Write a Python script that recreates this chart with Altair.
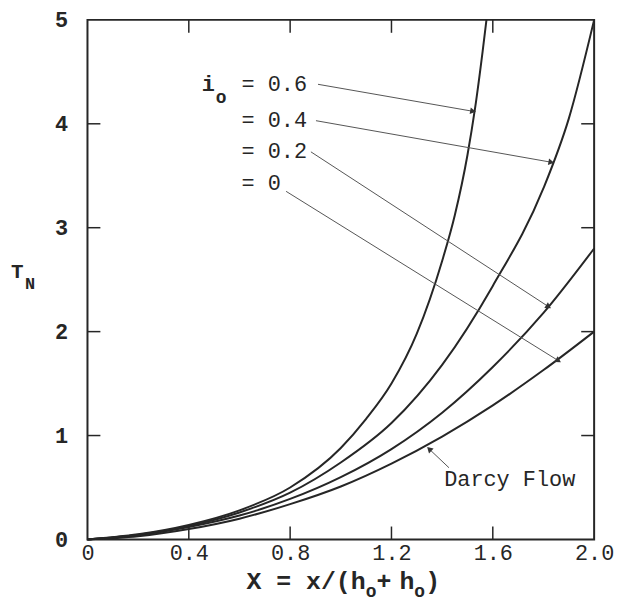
import math
import altair as alt
import pandas as pd

# ---------------- data ----------------
X_DARCY = [0, 0.2, 0.4, 0.6, 0.8, 1.0, 1.2, 1.4, 1.6, 1.8, 2.0]
T_DARCY = [0, 0.03, 0.10, 0.20, 0.34, 0.51, 0.73, 0.99, 1.29, 1.63, 2.0]

X_I02 = [0, 0.2, 0.4, 0.6, 0.8, 1.0, 1.2, 1.4, 1.6, 1.8, 2.0]
T_I02 = [0, 0.042, 0.12, 0.23, 0.39, 0.60, 0.87, 1.22, 1.66, 2.18, 2.80]

X_I04 = [0, 0.2, 0.4, 0.6, 0.8, 1.0, 1.2, 1.4, 1.6, 1.8, 1.9, 2.0]
T_I04 = [0, 0.045, 0.13, 0.26, 0.45, 0.74, 1.12, 1.68, 2.44, 3.38, 4.05, 5.0]

X_I06 = [0, 0.2, 0.4, 0.6, 0.8, 1.0, 1.1, 1.2, 1.3, 1.4, 1.45, 1.5, 1.53, 1.56, 1.575]
T_I06 = [0, 0.05, 0.14, 0.28, 0.50, 0.88, 1.16, 1.50, 1.98, 2.68, 3.12, 3.70, 4.15, 4.70, 5.0]

X_TICKS = [0.4, 0.8, 1.2, 1.6]
Y_TICKS = [1, 2, 3, 4]

# annotation labels
LABEL_TEXT = ["= 0.6", "= 0.4", "= 0.2", "= 0", "Darcy Flow"]
LABEL_X = [0.608, 0.608, 0.608, 0.608, 1.408]
LABEL_T = [4.383, 4.039, 3.733, 3.427, 0.578]

# leader arrows (start -> tip on curve)
ARROW_X1 = [0.910, 0.902, 0.882, 0.784, 1.427]
ARROW_T1 = [4.38, 4.03, 3.73, 3.35, 0.69]
ARROW_X2 = [1.522, 1.831, 1.820, 1.859, 1.349]
ARROW_T2 = [4.12, 3.63, 2.24, 1.72, 0.87]

W, H = 510, 523
FONT = "Liberation Mono"
INK = "#262626"

# ---------------- tables ----------------
rows = []
for name, xs, ts in [("Darcy", X_DARCY, T_DARCY), ("0.2", X_I02, T_I02),
                     ("0.4", X_I04, T_I04), ("0.6", X_I06, T_I06)]:
    for x, t in zip(xs, ts):
        rows.append({"series": name, "X": x, "T": t})
curves = pd.DataFrame(rows)

labels = pd.DataFrame({"txt": LABEL_TEXT, "X": LABEL_X, "T": LABEL_T})
arrows = pd.DataFrame({"X": ARROW_X1, "T": ARROW_T1, "X2": ARROW_X2, "T2": ARROW_T2})
px_x, px_y = W / 2.0, H / 5.0
arrows["ang"] = [
    math.degrees(math.atan2(-(t2 - t1) * px_y, (x2 - x1) * px_x)) % 360
    for x1, t1, x2, t2 in zip(ARROW_X1, ARROW_T1, ARROW_X2, ARROW_T2)
]

xs = alt.Scale(domain=[0, 2], nice=False, zero=False)
ys = alt.Scale(domain=[0, 5], nice=False, zero=False)

lines = alt.Chart(curves).mark_line(
    color=INK, strokeWidth=2, interpolate="monotone"
).encode(
    x=alt.X("X:Q", scale=xs, axis=alt.Axis(
        values=[0, 0.4, 0.8, 1.2, 1.6, 2.0], title=None,
        labelExpr="datum.value == 0 ? '0' : format(datum.value, '.1f')",
        labelPadding=3, labelFontSize=22, labelFont=FONT, labelColor=INK,
        labelFlush=False)),
    y=alt.Y("T:Q", scale=ys, axis=alt.Axis(
        values=[0, 1, 2, 3, 4, 5], title=None, format="d",
        labelPadding=20, labelFontSize=22, labelFont=FONT, labelColor=INK,
        labelFontWeight="bold", labelFlush=False)),
    detail="series:N",
)

tick_x = pd.DataFrame({"X": X_TICKS})
tick_y = pd.DataFrame({"T": Y_TICKS})
tlen = 13
rule_style = dict(color=INK, strokeWidth=1.5)
ticks_bottom = alt.Chart(tick_x).mark_rule(**rule_style).encode(
    x=alt.X("X:Q", scale=xs), y=alt.value(H), y2=alt.value(H - tlen))
ticks_top = alt.Chart(tick_x).mark_rule(**rule_style).encode(
    x=alt.X("X:Q", scale=xs), y=alt.value(0), y2=alt.value(tlen))
ticks_left = alt.Chart(tick_y).mark_rule(**rule_style).encode(
    y=alt.Y("T:Q", scale=ys), x=alt.value(0), x2=alt.value(tlen))
ticks_right = alt.Chart(tick_y).mark_rule(**rule_style).encode(
    y=alt.Y("T:Q", scale=ys), x=alt.value(W), x2=alt.value(W - tlen))

arrow_lines = alt.Chart(arrows).mark_rule(color="#555", strokeWidth=1).encode(
    x=alt.X("X:Q", scale=xs), y=alt.Y("T:Q", scale=ys), x2="X2:Q", y2="T2:Q")
arrow_heads = alt.Chart(arrows).mark_point(
    shape="triangle-right", filled=True, color="#333", size=45, opacity=1
).encode(
    x=alt.X("X2:Q", scale=xs), y=alt.Y("T2:Q", scale=ys),
    angle=alt.Angle("ang:Q", scale=None))

label_marks = alt.Chart(labels).mark_text(
    align="left", baseline="middle", font=FONT, fontSize=22, color=INK
).encode(x=alt.X("X:Q", scale=xs), y=alt.Y("T:Q", scale=ys), text="txt:N")

io_df = pd.DataFrame({"txt": ["i"], "X": [0.451], "T": [4.383]})
io_sub = pd.DataFrame({"txt": ["o"], "X": [0.506], "T": [4.25]})
i_mark = alt.Chart(io_df).mark_text(
    align="left", baseline="middle", font=FONT, fontSize=22, fontWeight="bold", color=INK
).encode(x=alt.X("X:Q", scale=xs), y=alt.Y("T:Q", scale=ys), text="txt:N")
o_mark = alt.Chart(io_sub).mark_text(
    align="left", baseline="middle", font=FONT, fontSize=18, fontWeight="bold", color=INK
).encode(x=alt.X("X:Q", scale=xs), y=alt.Y("T:Q", scale=ys), text="txt:N")

# axis titles (with subscripts) as text pieces placed in pixels
def piece(txt, px, py, size, weight="bold"):
    return alt.Chart(pd.DataFrame({"txt": [txt]})).mark_text(
        align="left", baseline="middle", font=FONT, fontSize=size,
        fontWeight=weight, color=INK
    ).encode(x=alt.value(px), y=alt.value(py), text="txt:N")

xtitle = [
    piece("X = x/(h", 160, 565, 25),
    piece("o", 280, 576, 18),
    piece("+", 291, 565, 25),
    piece("h", 314, 565, 25),
    piece("o", 329, 576, 18),
    piece(")", 340, 565, 25),
]
ytitle = [
    piece("T", -77, 254, 21),
    piece("N", -63, 266, 17),
]

chart = alt.layer(
    lines, ticks_bottom, ticks_top, ticks_left, ticks_right,
    arrow_lines, arrow_heads, label_marks, i_mark, o_mark, *xtitle, *ytitle
).properties(
    width=W, height=H,
    autosize=alt.AutoSizeParams(type="none"),
    padding={"left": 80, "top": 10, "right": 20, "bottom": 60},
).configure_view(
    stroke=INK, strokeWidth=2
).configure_axis(
    domain=False, ticks=False, grid=False
)

chart.save("out.html", embed_options={"renderer": "svg", "actions": False})
